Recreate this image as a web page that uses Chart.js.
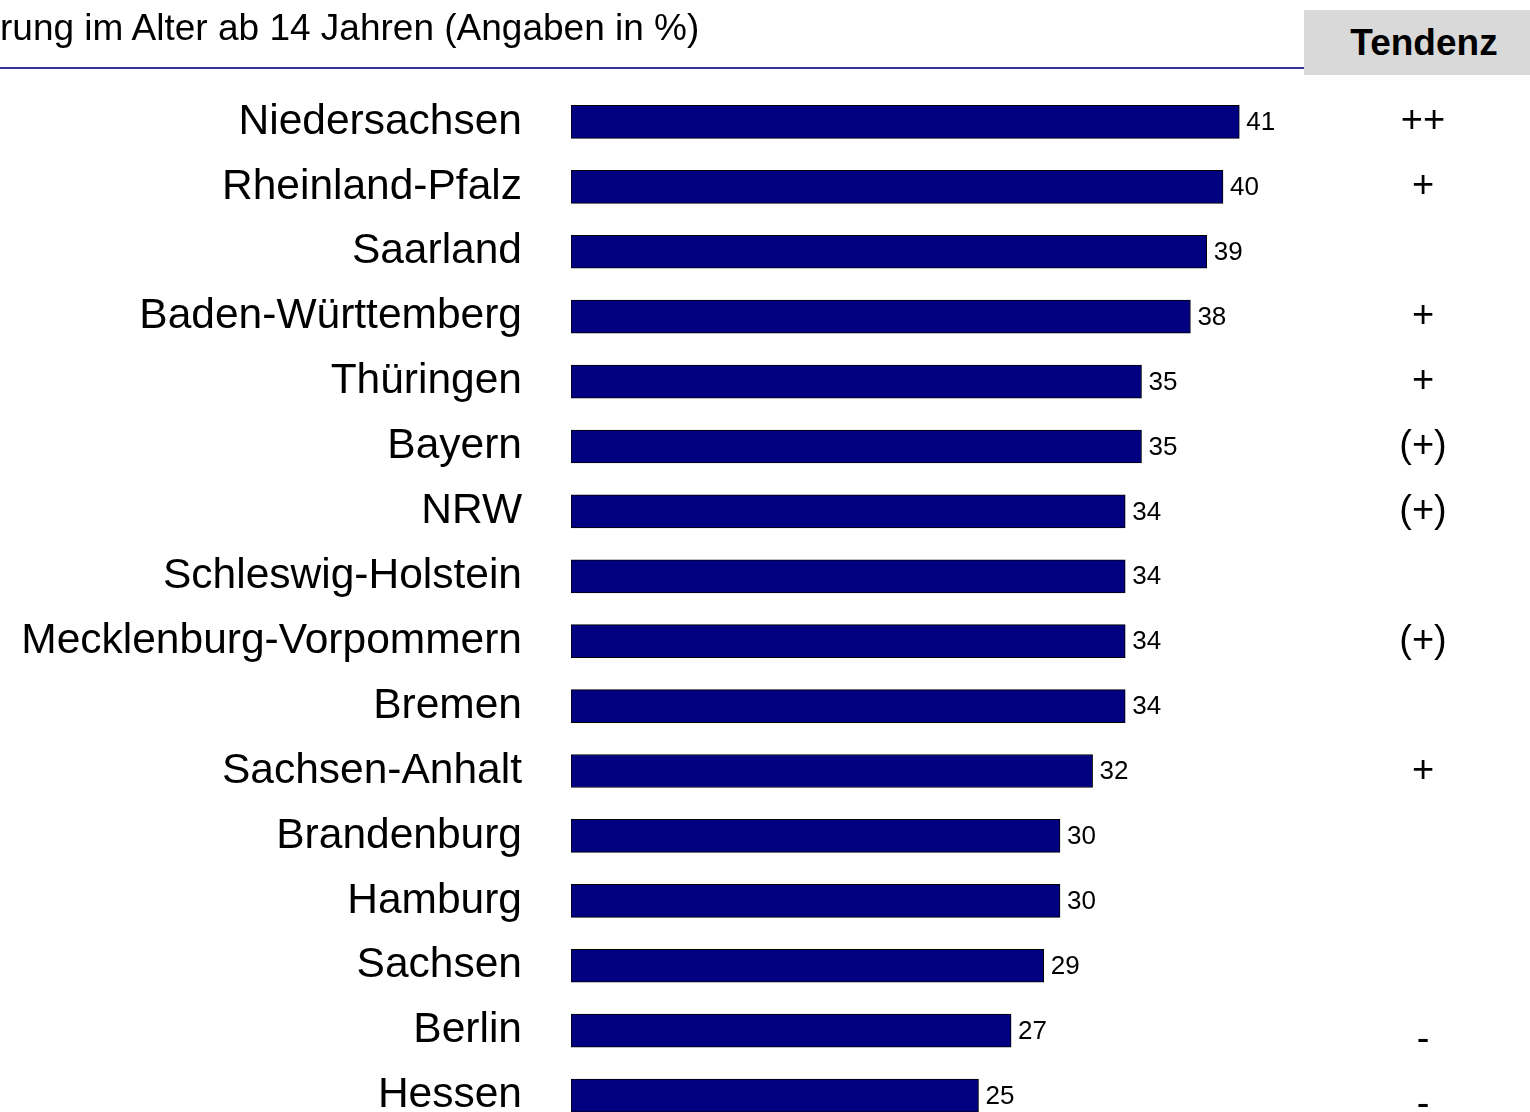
<!DOCTYPE html>
<html lang="de">
<head>
<meta charset="utf-8">
<title>Bundesländer</title>
<script src="https://cdn.jsdelivr.net/npm/chart.js@4.4.1/dist/chart.umd.min.js"></script>
<style>
    body { margin: 0; background: #fff; overflow: hidden; font-family: "Liberation Sans", Arial, sans-serif; }
    #laenderChart { position: absolute; left: 0; top: 0; }
    #untertitel { position: absolute; left: 0; top: 7px; font-size: 37px; color: #000; white-space: nowrap; }
    #linie { position: absolute; left: 0; top: 67px; width: 1304px; height: 2px; background: #333399; }
    #tendenzKopf { position: absolute; left: 1304px; top: 10px; width: 226px; height: 65px; background: #d9d9d9;
        font-weight: bold; font-size: 37px; line-height: 65px; text-align: center; box-sizing: border-box; padding-left: 14px; }
</style>
</head>
<body>
<canvas id="laenderChart" width="1530" height="1140"></canvas>
<div id="untertitel">rung im Alter ab 14 Jahren (Angaben in %)</div>
<div id="linie"></div>
<div id="tendenzKopf">Tendenz</div>
<script>
// Daten
const laender = ['Niedersachsen', 'Rheinland-Pfalz', 'Saarland', 'Baden-Württemberg', 'Thüringen', 'Bayern', 'NRW',
    'Schleswig-Holstein', 'Mecklenburg-Vorpommern', 'Bremen', 'Sachsen-Anhalt', 'Brandenburg', 'Hamburg', 'Sachsen',
    'Berlin', 'Hessen'];
const werte = [41, 40, 39, 38, 35, 35, 34, 34, 34, 34, 32, 30, 30, 29, 27, 25];
const tendenz = ['++', '+', '', '+', '+', '(+)', '(+)', '', '(+)', '', '+', '', '', '', '-', '-'];

document.addEventListener('DOMContentLoaded', function() {
    const ctx = document.getElementById('laenderChart');

    // Werte rechts neben den Balken und Tendenz-Spalte
    const beschriftung = {
        id: 'beschriftung',
        afterDatasetsDraw(chart) {
            const c = chart.ctx;
            const meta = chart.getDatasetMeta(0);
            const yScale = chart.scales.y;
            c.save();
            c.fillStyle = '#000';
            c.textBaseline = 'middle';
            c.font = '26px "Liberation Sans", Arial, sans-serif';
            c.textAlign = 'left';
            meta.data.forEach((bar, i) => {
                c.fillText(werte[i], bar.x + 7, bar.y + 1);
            });
            c.font = '38px "Liberation Sans", Arial, sans-serif';
            c.textAlign = 'center';
            tendenz.forEach((t, i) => {
                if (!t) return;
                const y = yScale.getPixelForValue(i) + (t === '-' ? 10 : 0);
                c.fillText(t, 1423, y);
            });
            c.restore();
        }
    };

    new Chart(ctx, {
        type: 'bar',
        data: {
            labels: laender,
            datasets: [{
                data: werte,
                backgroundColor: '#000080',
                borderColor: '#000',
                borderWidth: 1,
                borderSkipped: false,
                barThickness: 33
            }]
        },
        options: {
            indexAxis: 'y',
            responsive: false,
            animation: false,
            layout: { padding: { top: 89.5, bottom: 12, left: 0, right: 144 } },
            plugins: { legend: { display: false }, tooltip: { enabled: false } },
            scales: {
                x: { display: false, min: 0, max: 50 },
                y: {
                    afterFit: function(scale) {
                        scale.width = 571;
                        scale.paddingTop = 0;
                        scale.paddingBottom = 0;
                    },
                    grid: { display: false, drawTicks: false },
                    border: { display: false },
                    ticks: {
                        padding: 49,
                        color: '#000',
                        font: { family: '"Liberation Sans", Arial, sans-serif', size: 42.5 }
                    }
                }
            }
        },
        plugins: [beschriftung]
    });
});
</script>
</body>
</html>
